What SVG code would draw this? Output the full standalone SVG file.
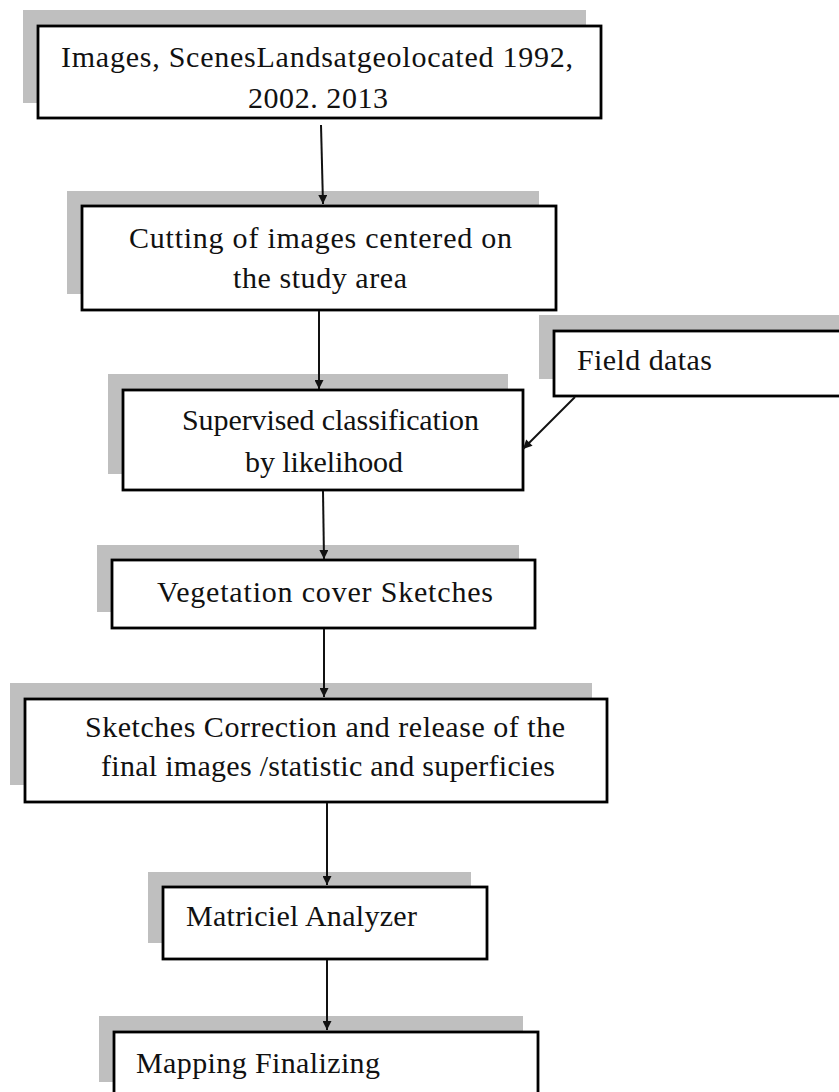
<svg xmlns="http://www.w3.org/2000/svg" width="839" height="1092" viewBox="0 0 839 1092">
<defs>
<style>
.sh{fill:#bfbfbf;stroke:none}
.bx{fill:#fff;stroke:#000;stroke-width:2.8}
.t{font-family:"Liberation Serif","Times New Roman",serif;font-size:30px;fill:#111}
.c{stroke:#111;stroke-width:2;fill:none;marker-end:url(#ah)}
</style>
<marker id="ah" viewBox="0 0 10 10" refX="10" refY="5" markerWidth="10" markerHeight="9" markerUnits="userSpaceOnUse" orient="auto">
<path d="M0,0 L10,5 L0,10 Z" fill="#111"/>
</marker>
</defs>
<rect width="839" height="1092" fill="#fff"/>
<g id="n1">
<rect class="sh" x="23" y="10" width="563" height="93"/>
<rect class="bx" x="38" y="26" width="563" height="92"/>
<text class="t" font-family="Liberation Serif, serif" x="61" y="67" textLength="512">Images,  ScenesLandsatgeolocated  1992,</text>
<text class="t" font-family="Liberation Serif, serif" x="248" y="108" textLength="140">2002. 2013</text>
</g>
<g id="n2">
<rect class="sh" x="67" y="191" width="472" height="103"/>
<rect class="bx" x="82" y="206" width="474" height="104"/>
<text class="t" font-family="Liberation Serif, serif" x="129" y="248" textLength="383">Cutting  of images  centered  on</text>
<text class="t" font-family="Liberation Serif, serif" x="233" y="288" textLength="174">the  study  area</text>
</g>
<g id="n3">
<rect class="sh" x="108" y="374" width="400" height="100"/>
<rect class="bx" x="123" y="390" width="400" height="100"/>
<text class="t" font-family="Liberation Serif, serif" x="182" y="430" textLength="297">Supervised  classification</text>
<text class="t" font-family="Liberation Serif, serif" x="245" y="472" textLength="158">by likelihood</text>
</g>
<g id="n4">
<rect class="sh" x="539" y="315" width="300" height="64"/>
<rect class="bx" x="554" y="331" width="300" height="65"/>
<text class="t" font-family="Liberation Serif, serif" x="577" y="370" textLength="135">Field  datas</text>
</g>
<g id="n5">
<rect class="sh" x="97" y="545" width="422" height="67"/>
<rect class="bx" x="112" y="560" width="423" height="68"/>
<text class="t" font-family="Liberation Serif, serif" x="157" y="602" textLength="336">Vegetation  cover Sketches</text>
</g>
<g id="n6">
<rect class="sh" x="10" y="683" width="582" height="102"/>
<rect class="bx" x="25" y="699" width="582" height="103"/>
<text class="t" font-family="Liberation Serif, serif" x="85" y="737" textLength="480">Sketches  Correction  and  release  of the</text>
<text class="t" font-family="Liberation Serif, serif" x="101" y="776" textLength="454">final  images  /statistic  and  superficies</text>
</g>
<g id="n7">
<rect class="sh" x="148" y="872" width="323" height="71"/>
<rect class="bx" x="163" y="887" width="324" height="72"/>
<text class="t" font-family="Liberation Serif, serif" x="186" y="926" textLength="231">Matriciel  Analyzer</text>
</g>
<g id="n8">
<rect class="sh" x="99" y="1016" width="424" height="66"/>
<rect class="bx" x="114" y="1032" width="424" height="70"/>
<text class="t" font-family="Liberation Serif, serif" x="136" y="1073" textLength="244">Mapping  Finalizing</text>
</g>
<g id="connectors">
<line class="c" x1="321" y1="125" x2="323" y2="204"/>
<line class="c" x1="319" y1="311" x2="319" y2="389"/>
<line class="c" x1="575" y1="397" x2="523" y2="449"/>
<line class="c" x1="323" y1="491" x2="324" y2="559"/>
<line class="c" x1="324" y1="629" x2="324" y2="697"/>
<line class="c" x1="327" y1="803" x2="327" y2="885"/>
<line class="c" x1="327" y1="960" x2="327" y2="1030"/>
</g>
</svg>
